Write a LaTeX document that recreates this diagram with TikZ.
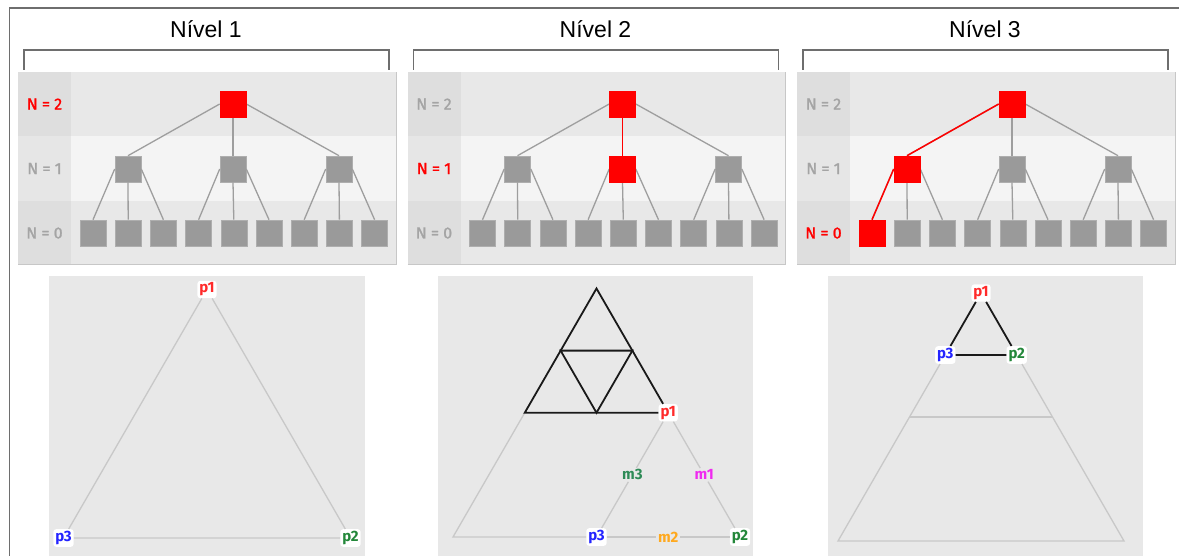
\documentclass[tikz,border=0pt]{standalone}
\usepackage{fontspec}
\usepackage{xcolor}
\usetikzlibrary{calc}
\newfontfamily\titlefont{Liberation Sans}
\newfontfamily\lblfont{Fira Sans}
\newfontfamily\lvlfont[FakeBold=1.2]{Fira Sans}

\definecolor{framegray}{HTML}{6E6E6E}
\definecolor{rowdark}{HTML}{E8E8E8}
\definecolor{rowlight}{HTML}{F4F4F4}
\definecolor{coldark}{HTML}{DEDEDE}
\definecolor{collight}{HTML}{E6E6E6}
\definecolor{sqgray}{HTML}{9A9A9A}
\definecolor{edgegray}{HTML}{9E9E9E}
\definecolor{lblgray}{HTML}{A4A4A4}
\definecolor{hired}{HTML}{FF0000}
\definecolor{panelbg}{HTML}{E8E8E8}
\definecolor{trigray}{HTML}{C8C8C8}
\definecolor{pred}{HTML}{FF2A2A}
\definecolor{pgreen}{HTML}{23873A}
\definecolor{pblue}{HTML}{2424FF}
\definecolor{mgreen}{HTML}{2E8B57}
\definecolor{mmagenta}{HTML}{F02AF0}
\definecolor{morange}{HTML}{FFA91F}

\tikzset{
  titlenode/.style={inner sep=0pt, font=\titlefont\fontsize{23}{26}\selectfont},
  bracket/.style={draw=framegray, line width=1.2pt},
  boxline/.style={draw=black!22, line width=1pt},
  levelnode/.style={inner sep=0pt, font=\lvlfont\fontsize{16}{18}\selectfont},
  sq/.style={minimum size=26pt, inner sep=0pt, fill=sqgray, draw=sqgray!80!white, line width=0.6pt},
  redsq/.style={sq, fill=hired, draw=hired},
  tedge/.style={draw=edgegray, line width=1.3pt},
  redge/.style={draw=hired, line width=1.5pt},
  pbox/.style={fill=white, rounded corners=3pt, inner sep=2pt, font=\lblfont\bfseries\fontsize{15}{17}\selectfont},
  mtext/.style={fill=panelbg, inner sep=1.5pt, font=\lblfont\bfseries\fontsize{15}{17}\selectfont},
  gline/.style={draw=trigray, line width=1.3pt},
  bline/.style={draw=black!90, line width=1.8pt}
}

\begin{document}
\begin{tikzpicture}[x=1pt,y=-1pt]
  \useasboundingbox (0,0) rectangle (1179,556);

  % outer frame
  \draw[draw=framegray, line width=1.2pt] (9.5,556) -- (9.5,8) -- (1179,8);

  % the three tree panels (\hl = highlighted level)
  \foreach \p/\x/\hl in {1/18/2,2/407.5/1,3/797/0}{
    \node[titlenode] (title\p) at (\x+188,29) {Nível \p};
    \draw[bracket] (\x+6,70) -- (\x+6,50) -- (\x+371,50) -- (\x+371,70);

    % level bands
    \fill[rowdark] (\x,72) rectangle (\x+378,136);
    \fill[rowlight] (\x,136) rectangle (\x+378,201);
    \fill[rowdark] (\x,201) rectangle (\x+378,265);
    \fill[coldark] (\x,72) rectangle (\x+53,136);
    \fill[collight] (\x,136) rectangle (\x+53,201);
    \fill[coldark] (\x,201) rectangle (\x+53,265);
    \draw[boxline] (\x,265) -- (\x+378,265) -- (\x+378,72);

    \foreach \n/\y in {2/104,1/168.5,0/233}{
      \ifnum\n=\hl \def\lc{hired}\else\def\lc{lblgray}\fi
      \node[levelnode, text=\lc] (lv\p-\n) at (\x+26.5,\y) {N = \n};
    }

    % squares
    \node[sq] (t\p) at (\x+215,104) {};
    \foreach \j/\dx in {1/110,2/215,3/321}
      \node[sq] (m\p-\j) at (\x+\dx,169) {};
    \foreach \k in {0,...,8}
      \node[sq] (b\p-\k) at (\x+75+35.2*\k,233) {};

    % edges
    \draw[tedge] (t\p.west) -- (m\p-1.north);
    \draw[tedge] (t\p.south) -- (m\p-2.north);
    \draw[tedge] (t\p.east) -- (m\p-3.north);
    \foreach \j/\l/\c/\r in {1/0/1/2,2/3/4/5,3/6/7/8}{
      \draw[tedge] (m\p-\j.west) -- (b\p-\l.north);
      \draw[tedge] (m\p-\j.south) -- (b\p-\c.north);
      \draw[tedge] (m\p-\j.east) -- (b\p-\r.north);
    }
  }

  % highlighted paths
  \node[redsq] (t1h) at (t1) {};
  \draw[redge] (t2.south) -- (m2-2.north);
  \node[redsq] (t2h) at (t2) {};
  \node[redsq] (m2h) at (m2-2) {};
  \draw[redge] (t3.west) -- (m3-1.north);
  \draw[redge] (m3-1.west) -- (b3-0.north);
  \node[redsq] (t3h) at (t3) {};
  \node[redsq] (m3h) at (m3-1) {};
  \node[redsq] (b3h) at (b3-0) {};

  % --- step 1: whole triangle
  \fill[panelbg] (49,276) rectangle (365,556);
  \coordinate (A1) at (207,289.5);
  \coordinate (L1) at (63.5,538);
  \coordinate (R1) at (350.5,538);
  \node[pbox, text=pred] (s1p1) at (A1) {p1};
  \node[pbox, text=pgreen] (s1p2) at (R1) {p2};
  \node[pbox, text=pblue] (s1p3) at (L1) {p3};
  \draw[gline] (s1p1) -- (s1p2) -- (s1p3) -- (s1p1);

  % --- step 2: sub-triangles
  \fill[panelbg] (438,276) rectangle (753,556);
  \coordinate (A2) at (596.5,288.5);
  \coordinate (L2) at (453,537);
  \coordinate (R2) at (740,537);
  \coordinate (H2l) at ($(A2)!0.5!(L2)$);
  \coordinate (H2r) at ($(A2)!0.5!(R2)$);
  \coordinate (Q2l) at ($(A2)!0.5!(H2l)$);
  \coordinate (Q2r) at ($(A2)!0.5!(H2r)$);
  \coordinate (Q2b) at ($(H2l)!0.5!(H2r)$);
  \node[pbox, text=pred] (s2p1) at (H2r) {p1};
  \node[pbox, text=pgreen] (s2p2) at (R2) {p2};
  \node[pbox, text=pblue] (s2p3) at ($(L2)!0.5!(R2)$) {p3};
  \node[mtext, text=mmagenta] (s2m1) at ($(H2r)!0.5!(R2)$) {m1};
  \node[mtext, text=morange] (s2m2) at ($(s2p3)!0.5!(R2)$) {m2};
  \node[mtext, text=mgreen] (s2m3) at ($(H2r)!0.5!(s2p3.center)$) {m3};
  \draw[gline] (H2l) -- (L2) -- (s2p3);
  \draw[gline] (s2p3) -- (s2m2) -- (s2p2);
  \draw[gline] (s2p1) -- (s2m1) -- (s2p2);
  \draw[gline] (s2p1) -- (s2m3) -- (s2p3);
  \draw[bline] (s2p1) -- (H2l) -- (A2) -- (s2p1);
  \draw[bline] (Q2l) -- (Q2r) -- (Q2b) -- cycle;

  % --- step 3: top corner
  \fill[panelbg] (828,276) rectangle (1143,556);
  \coordinate (A3) at (981,293);
  \coordinate (L3) at (838,541);
  \coordinate (R3) at (1124,541);
  \coordinate (H3l) at ($(A3)!0.5!(L3)$);
  \coordinate (H3r) at ($(A3)!0.5!(R3)$);
  \node[pbox, text=pred] (s3p1) at (A3) {p1};
  \node[pbox, text=pgreen] (s3p2) at ($(A3)!0.25!(R3)$) {p2};
  \node[pbox, text=pblue] (s3p3) at ($(A3)!0.25!(L3)$) {p3};
  \draw[gline] (s3p3) -- (L3) -- (R3) -- (s3p2);
  \draw[gline] (H3l) -- (H3r);
  \draw[bline] (s3p1) -- (s3p3) -- (s3p2) -- (s3p1);
\end{tikzpicture}
\end{document}
